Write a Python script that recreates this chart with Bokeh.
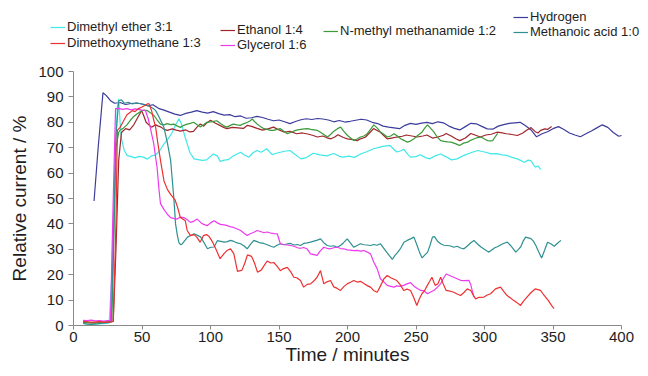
from bokeh.plotting import figure
from bokeh.models import Range1d, Legend, LegendItem, ColumnDataSource
from bokeh.embed import file_html
from bokeh.resources import INLINE

# ---------------- data ----------------
hydrogen_t = [15, 18, 21.5, 24, 27, 30, 34, 38, 42, 46, 50, 54, 58, 62, 66, 70, 74, 78, 82, 86, 90, 94, 98, 102, 106, 110, 114, 118, 122, 126, 130, 134, 138, 142, 146, 150, 154, 158, 162, 166, 170, 174, 178, 182, 186, 190, 194, 198, 202, 206, 210, 214, 218, 222, 226, 230, 234, 238, 242, 246, 250, 254, 258, 262, 266, 270, 274, 278, 282, 286, 290, 294, 298, 302, 306, 310, 314, 318, 322, 326, 330, 334, 338, 342, 346, 350, 354, 358, 362, 366, 370, 374, 378, 382, 386, 390, 394, 398, 400]
hydrogen_v = [49, 70, 91.6, 90.5, 88.5, 87.5, 87.8, 87, 87.4, 87.6, 87.2, 86.5, 86.9, 85.5, 84.8, 84, 83.2, 82.7, 83.5, 84, 84.6, 84, 83.6, 84.2, 83.4, 82.8, 83, 82.2, 82.5, 81.6, 81.8, 82.3, 81.9, 81.2, 80.6, 80.9, 80.2, 79.5, 80.3, 81, 81.4, 81.1, 81.5, 81.3, 80.9, 80.2, 80.7, 80.1, 80.4, 80.8, 81.2, 80.9, 80, 79.5, 78.5, 78.1, 77.8, 77.5, 78.8, 79.6, 79.2, 79.7, 80, 79.5, 80.2, 79.8, 78.5, 77.6, 77, 78.3, 79.6, 79.4, 78.4, 77.4, 77.3, 78.5, 79.1, 79.6, 79.8, 80, 78.6, 77, 74.3, 75.5, 76.3, 77.5, 78.3, 77.2, 75.8, 75, 74.3, 75.5, 76.6, 77.8, 79, 78, 76, 74.5, 74.8]

dme_t = [7, 10, 14, 18, 22, 26, 28, 30, 32, 33, 34, 35, 37, 39, 42, 45, 48, 51, 54, 57, 60, 63, 66, 69, 72, 75, 77, 79, 81, 83, 85, 88, 91, 94, 97, 100, 102, 105, 107, 110, 113, 116, 119, 122, 125, 128, 131, 134, 137, 141, 145, 148, 151, 154, 158, 162, 166, 170, 175, 180, 185, 190, 194, 197, 201, 205, 210, 214, 219, 223, 226, 231, 234, 236, 239, 241, 244, 246, 250, 253, 257, 260, 264, 268, 272, 276, 280, 285, 290, 295, 300, 305, 309, 313, 316, 320, 324, 329, 332, 334, 337, 339, 341]
dme_v = [0.8, 0.6, 0.5, 0.6, 0.7, 1, 20, 60, 86, 89.2, 80, 73.6, 69, 67, 66.5, 66, 66.6, 66.3, 65.5, 66.8, 67.2, 69, 71.4, 73.5, 76, 79.5, 81.4, 79, 75, 71.5, 68, 65.6, 65.3, 65, 65.2, 66.5, 67.5, 66.8, 64.6, 65.1, 65.3, 66.5, 67.4, 68.2, 67, 66.3, 68, 68.9, 68.2, 69.6, 67.3, 67.8, 68.2, 68.6, 68.9, 67.2, 65.6, 66.1, 67.8, 67.2, 66.8, 67.7, 66.6, 66.3, 66.7, 66.2, 67.6, 68.4, 69.6, 70.1, 70.5, 70.9, 69.2, 68.3, 68.8, 69.4, 67.4, 66.3, 66.5, 67.2, 66.1, 65.6, 66.8, 67.5, 66.4, 65.2, 65.6, 67, 68, 68.9, 68.3, 67.6, 67.7, 67.2, 67, 66.2, 65.6, 64.3, 65.1, 64.8, 62.3, 62.8, 61.5]

ethanol_t = [7, 12, 17, 22, 27, 29, 31, 33, 35, 38, 41, 44, 47, 49.7, 51, 53, 55, 57, 60, 62, 64, 66, 68.6, 72, 75, 78, 82, 85, 87.6, 90, 92.4, 95, 97, 100, 103, 107.5, 110, 112, 116, 120, 124, 127, 130, 134, 138, 142, 146, 150, 154, 158, 163, 167, 171, 175, 178, 182, 185, 188, 191, 193, 197, 200, 204, 207, 210, 213, 216, 219, 221, 224, 227, 229, 233, 236, 240, 243, 247, 251, 255, 258, 262, 266, 270, 272, 276, 279, 282, 286, 290, 294, 297, 301, 305, 309, 312, 316, 320, 324, 328, 331, 334, 337, 339, 341, 344, 346, 349]
ethanol_v = [1.2, 1, 1.1, 1.3, 1.5, 1.6, 30, 65, 76, 77.5, 77, 79, 82, 84.6, 83, 80, 79, 78.1, 79, 78.5, 78.1, 77.2, 76.8, 77.4, 76.9, 76.5, 77, 76.2, 76.4, 78, 79.3, 78.5, 79.6, 80.8, 79.8, 78.6, 77.9, 77.5, 78, 77.8, 77.6, 78.8, 78.4, 77.6, 76.9, 77.4, 78.1, 77, 76.1, 76.4, 75.5, 75.8, 75.4, 74.8, 74.2, 74.6, 73.9, 73.5, 74.3, 75.1, 74, 73.5, 73.2, 72.8, 73.6, 74.1, 75.8, 77.5, 77, 76.1, 74.5, 73.5, 73.9, 74.2, 74.5, 75, 74.6, 74.2, 74.6, 75, 73.8, 74.2, 74.9, 75.6, 74.5, 73.5, 72.8, 73.8, 75.6, 74.8, 74.2, 75, 75.3, 76.1, 75.9, 75.5, 75.2, 74.8, 75.8, 77, 77.9, 76.3, 75.8, 76.8, 77.4, 77.2, 78.3]

dmm_t = [7, 11, 15, 19, 23, 27, 29, 31, 32, 34, 36, 37, 39, 41, 43, 45, 47, 50, 52, 53.8, 55, 57, 58.5, 60, 61.5, 63.5, 66, 68.6, 71, 74, 76, 78, 80, 81.6, 83, 85.4, 88, 90, 92.4, 94.9, 97, 99, 101.6, 104, 107, 110, 112, 114.6, 117, 119.7, 123, 125, 127, 130, 131.9, 134.3, 137, 139, 141.4, 144, 146.2, 148.5, 151, 153, 156, 158.5, 160.8, 163, 165.7, 168, 170.5, 173, 175.4, 177.8, 180.3, 182.7, 185, 187.6, 190, 192.5, 194.9, 197.3, 199.8, 202.2, 204.6, 207, 209.5, 212, 214.4, 217, 219, 221.7, 224, 226.6, 229, 231.5, 234, 236, 238.6, 241, 243.5, 246, 248.2, 250.6, 252.5, 254.3, 256, 258, 260, 261.6, 264, 266, 268, 270, 272, 275, 277.6, 280, 282.5, 285, 287.4, 290, 291.5, 293.5, 296, 299.6, 302, 304.5, 308, 311.7, 314, 316.5, 319, 321.4, 324, 326.3, 328.5, 331, 334, 337, 339, 340.9, 342.8, 344.6, 346.5, 348.2, 350.7]
dmm_v = [1.6, 1.4, 1.3, 1.5, 1.2, 1.4, 1.6, 40, 76.8, 78, 80, 81, 83, 83.8, 84.6, 84.2, 85.3, 86, 86.6, 87.2, 87.4, 84.6, 81, 78, 72, 65, 57, 53.5, 51.5, 49.6, 46.5, 42.5, 41.8, 41.2, 37.4, 35.4, 35.8, 34.8, 32.8, 35.4, 35.8, 35, 32.8, 30, 26.3, 28.4, 29.5, 30.2, 28.3, 21.3, 21.8, 24.5, 27.8, 27.2, 24.9, 21, 21.8, 23.5, 25.4, 24.6, 24.8, 23.4, 21.6, 22.3, 22.9, 21.2, 19, 18.8, 17.7, 15.1, 16.2, 16.4, 17.5, 19, 21.6, 16.4, 17.2, 17.7, 15.2, 14.6, 13.8, 15.3, 16.4, 17, 17.7, 17.1, 17.4, 16.5, 15.7, 15, 13.8, 13.1, 15.5, 18.4, 19.7, 18.8, 18.2, 17.7, 16, 13.8, 14.3, 13.8, 11.2, 7.9, 10.5, 12.5, 13.5, 15.5, 17.4, 19, 15.8, 16.4, 19, 16.2, 13.8, 13.5, 13.1, 12.4, 11.8, 13, 14.4, 13.8, 12.2, 10.5, 11.1, 11.2, 12, 12.5, 14.4, 15.1, 13.4, 11.8, 10.8, 9.8, 8.9, 7.9, 9.6, 11.2, 13, 14.4, 14.1, 13.8, 12.4, 11.2, 9.9, 8.5, 6.6]

glycerol_t = [7, 10, 13, 16, 19, 22, 25, 27, 29, 30.7, 33, 36, 39, 42, 45, 48, 50, 52.5, 54.5, 56, 58.6, 60, 61, 62.5, 63.5, 66, 68.5, 70.9, 73, 75.7, 78, 80.6, 83, 85.4, 88, 90.3, 93, 95, 97.6, 100, 102.5, 105, 107.3, 110, 112.2, 115, 117, 119.5, 122, 124.5, 126.8, 129, 131.7, 134, 136.5, 139, 141.4, 144, 146.5, 148.7, 151, 154, 156, 158.4, 161, 163.5, 165.7, 168, 170.6, 173, 175.5, 177.8, 180, 182.7, 185, 187.6, 190, 192.4, 195, 197.3, 200, 202, 204.6, 207, 209.5, 211.9, 214, 216.8, 219.2, 221.7, 224, 226.5, 229, 231.5, 233.9, 236, 238.5, 241, 243.5, 246, 248.5, 251, 253.5, 256, 258.4, 261, 263, 265.5, 268, 270, 272, 275, 277.5, 280, 282.5, 285, 288.6, 290, 291, 292.3]
glycerol_v = [2, 1.9, 2.1, 1.8, 1.9, 1.7, 1.9, 2, 50, 85.4, 85.5, 85.1, 85.4, 84.9, 85.3, 85, 84.8, 84.6, 81.5, 78, 71.5, 66, 62.3, 53, 48, 45.7, 43.8, 42.5, 42.2, 41.9, 42.7, 42.5, 41.6, 40.6, 41.1, 41.9, 40.5, 39.8, 39.3, 40.4, 41.2, 40.4, 39.8, 39.6, 39.3, 38.8, 38.6, 38, 37.4, 36.3, 35.4, 36.1, 36.7, 37.4, 37, 36.5, 36.8, 36.4, 36.2, 36.1, 32.2, 31.8, 31.7, 31.5, 31.2, 30.6, 30.4, 30.7, 30.1, 28.2, 27.9, 27.6, 29.3, 30.8, 30.4, 30.2, 30.6, 30.8, 30.3, 30.2, 29.8, 29.7, 29.5, 29.6, 29.3, 29.5, 29, 28.2, 24.9, 22.3, 18.4, 17.2, 15.8, 15.4, 15.1, 15.6, 15.4, 15.8, 16.4, 16.9, 15.5, 14.6, 13.8, 13.6, 12.5, 13.3, 13.8, 15, 16.4, 18.5, 20.3, 19.6, 19, 18.4, 17.8, 17.7, 17.8, 16, 13.8, 11.2]

nmm_t = [7, 11, 15, 19, 23, 26, 28, 29.5, 31, 33, 34, 36, 39, 41.5, 44, 46.5, 49, 51.5, 53.8, 56, 58.6, 61, 63.5, 66, 68.4, 71, 73.2, 75.5, 78, 80.5, 83, 85.3, 87.6, 90, 92.4, 95, 97.3, 100, 102.3, 104.6, 107, 109.5, 112, 114.4, 116.8, 119.3, 121.7, 124, 127, 129, 130.5, 132.5, 134.7, 136.8, 139, 141.4, 143.8, 146, 148.7, 151, 153.5, 156, 158.5, 161, 163.5, 166, 168.5, 170.8, 173.2, 175.6, 178, 180.5, 183, 185.4, 187.8, 190.3, 192.7, 195, 197.5, 200, 202.3, 204.6, 207, 209.5, 212, 214.4, 216.8, 219.2, 221.6, 224, 226.5, 229, 231.5, 234, 236.4, 238.8, 241.2, 243.6, 246, 248.5, 251, 254.5, 256.5, 258.4, 260.7, 263, 265.5, 268, 270.5, 273, 275.6, 278.7, 281.7, 284.7, 287.7, 290.2, 292.6, 295, 297.5, 300, 302.3, 304, 306, 307.8, 309.6]
nmm_v = [1, 1.2, 0.9, 1.1, 1.3, 1.5, 2, 35, 70, 76, 77, 77.5, 79, 80.8, 82.3, 83.4, 84.3, 84.8, 84.6, 83.8, 82.7, 81, 79.3, 79, 79.5, 79.1, 79.3, 78.6, 78, 78.8, 79.3, 79.6, 80, 79.1, 78.2, 79, 80, 80.2, 80.4, 80.6, 79.6, 78.7, 78.1, 78.8, 79.3, 79, 78.8, 79.4, 80, 80.6, 81.3, 80.1, 79, 78.2, 77.5, 77.2, 76.8, 76.8, 77.2, 77.5, 76.5, 75.5, 76, 76.6, 77, 77.2, 77.4, 77.5, 77.2, 77, 76.8, 76, 75.1, 74.2, 75.3, 76.6, 77.5, 78.1, 76.3, 74.8, 73.8, 72.8, 73.4, 74.2, 74.6, 75.5, 77.2, 79, 77.8, 76.2, 75.3, 74.2, 74.6, 75.5, 74.6, 73.5, 72.9, 72.2, 72.6, 73.5, 74.7, 76.2, 77.8, 79, 77.6, 76.2, 74.2, 72.8, 72.5, 72.3, 72.2, 71.6, 70.9, 71.8, 72.2, 73, 73.5, 74, 74.2, 73.4, 72.8, 72.7, 72.8, 74.3, 75.6]

ma_t = [7, 10, 13, 17, 21, 25, 27.5, 29, 31, 33, 35, 37, 40, 43, 46, 49, 52, 55, 58, 60, 63, 66, 68.5, 70.9, 72, 73.3, 74.5, 75.8, 77, 78.3, 79.5, 81.5, 83.2, 85.5, 88, 90.5, 92.9, 95.3, 97.8, 100.2, 102.6, 105, 107.5, 110, 112.3, 114.6, 117, 119.5, 122, 124.5, 126.8, 129, 131.6, 134, 136.4, 139, 141.4, 144, 146.2, 148.6, 151, 153.5, 156, 158.4, 161, 163.3, 165.7, 168, 170.6, 173, 175.5, 178, 180.3, 182.7, 185.2, 187.6, 190, 192.4, 195, 197.3, 199.8, 202.2, 204.6, 207, 209.5, 212, 214.4, 216.8, 219.2, 221.6, 224, 226.5, 229, 231, 232.7, 234.5, 236.3, 238.8, 241.2, 243.6, 246, 248.5, 251, 252.8, 254.5, 256.5, 258.4, 260.2, 262, 263.5, 265.7, 268, 270.4, 272.8, 275.2, 277.6, 280, 282.5, 285, 287.5, 290, 292.3, 294.7, 297.2, 299.6, 301.5, 303.3, 305.5, 307.5, 309.4, 312, 314.3, 316.7, 319, 321, 322.8, 324.8, 326.5, 328.2, 330, 332, 333.9, 335.7, 337.5, 339.5, 341.7, 343.8, 346, 348.4, 350.9, 353.3, 355.8]
ma_v = [0.8, 0.5, 0.4, 0.6, 0.9, 1.1, 1.3, 30, 75, 88.5, 88.8, 87.5, 87.9, 87.2, 87.6, 87.3, 87, 86.4, 85.5, 84.6, 81.5, 78, 72, 65, 58, 49.6, 40, 35.5, 32.5, 31.8, 32.2, 33.6, 34.8, 35.4, 36.1, 35.5, 34.8, 32.6, 30.2, 30.8, 30.9, 33.4, 33.1, 32.8, 33, 33.5, 33.1, 32.5, 32.2, 31.3, 30.2, 31.8, 33.5, 33, 32.5, 32.3, 31.8, 31.2, 30.8, 31.6, 32.2, 31.8, 32.1, 32.3, 31.7, 31.9, 31.5, 32.3, 32.5, 32.8, 33.2, 33.6, 34.1, 32.6, 31.5, 31.2, 31.4, 30.8, 31.6, 32.7, 34.1, 32.4, 30.8, 31.5, 32.2, 31.8, 31.7, 31.5, 31.9, 31.6, 32.2, 30.4, 28.6, 27.2, 26, 27.5, 28.6, 30.4, 32.8, 33.5, 34.1, 34.8, 31.2, 28.5, 26.6, 27.8, 28.8, 31.5, 34.8, 35, 33.2, 32.2, 31.6, 31.5, 31.3, 30.8, 31.2, 30.5, 30.2, 31.3, 32.6, 33.5, 32.2, 31, 30.1, 29.4, 28.9, 29.8, 30.6, 31, 31.8, 32.4, 32.8, 31.5, 30.2, 28.9, 30, 31, 33.2, 34.8, 34.5, 34.2, 33.2, 31.5, 29, 26.6, 29.5, 32.8, 32.2, 31.2, 32.4, 33.5]

series_names = ["Dimethyl ether 3:1", "Dimethoxymethane 1:3", "Ethanol 1:4", "Glycerol 1:6",
                "N-methyl methanamide 1:2", "Hydrogen", "Methanoic acid 1:0"]
series_colors = ["#40E8E8", "#EE3030", "#A0262C", "#EE3AEE", "#3C9A3C", "#3C3C9C", "#2E9090"]
series_t = [dme_t, dmm_t, ethanol_t, glycerol_t, nmm_t, hydrogen_t, ma_t]
series_v = [dme_v, dmm_v, ethanol_v, glycerol_v, nmm_v, hydrogen_v, ma_v]

x_ticks = [0, 50, 100, 150, 200, 250, 300, 350, 400]
y_ticks = [0, 10, 20, 30, 40, 50, 60, 70, 80, 90, 100]
x_lim = (0, 400)
y_lim = (0, 100)

# ---------------- layout geometry (pixels) ----------------
W, H = 640, 368
AX_LEFT, AX_RIGHT = 73, 621      # pixel x of t=0 and t=400
AX_BOTTOM, AX_TOP = 325, 71      # pixel y of v=0 and v=100
kx = (AX_RIGHT - AX_LEFT) / (x_lim[1] - x_lim[0])
ky = (AX_BOTTOM - AX_TOP) / (y_lim[1] - y_lim[0])
x_range = Range1d(x_lim[0] - AX_LEFT / kx, x_lim[0] + (W - AX_LEFT) / kx)
y_range = Range1d(y_lim[0] - (H - AX_BOTTOM) / ky, y_lim[0] + AX_BOTTOM / ky)

FONT = "Liberation Sans"
p = figure(width=W, height=H, output_backend="svg", toolbar_location=None,
           x_range=x_range, y_range=y_range,
           min_border_left=0, min_border_right=0, min_border_top=0, min_border_bottom=0)
p.outline_line_color = None
p.grid.visible = False

renderers = {}
order = [5, 0, 2, 4, 6, 3, 1]
for i in order:
    src = ColumnDataSource(dict(t=series_t[i], v=series_v[i]))
    renderers[i] = p.line("t", "v", source=src, line_color=series_colors[i], line_width=1.2)

for ax in (p.xaxis[0], p.yaxis[0]):
    ax.axis_line_color = "#8a8a8a"
    ax.major_tick_line_color = "#8a8a8a"
    ax.minor_tick_line_color = None
    ax.major_tick_in = 0
    ax.major_tick_out = 5
    ax.major_label_text_font = FONT
    ax.major_label_text_font_size = "15px"
    ax.major_label_text_color = "#1e1e1e"
    ax.axis_label_text_font = FONT
    ax.axis_label_text_font_size = "19px"
    ax.axis_label_text_font_style = "normal"
    ax.axis_label_text_color = "#1e1e1e"

p.xaxis.ticker = x_ticks
p.yaxis.ticker = y_ticks
p.xaxis.bounds = x_lim
p.yaxis.bounds = y_lim
p.xaxis.fixed_location = y_lim[0]
p.yaxis.fixed_location = x_lim[0]
p.xaxis.axis_label = "Time / minutes"
p.yaxis.axis_label = "Relative current / %"
p.xaxis.major_tick_out = 4
p.xaxis.major_label_standoff = 2
p.xaxis.axis_label_standoff = -1
p.yaxis.major_label_standoff = 5
p.yaxis.axis_label_standoff = 5

# legend entries: (series index, swatch left x, centre y) in page pixels
legend_pos = [(0, 50, 27), (1, 50, 43), (2, 220, 30), (3, 220, 45),
              (4, 323, 31), (5, 513, 17), (6, 513, 32)]
for i, lx, cy in legend_pos:
    leg = Legend(items=[LegendItem(label=series_names[i], renderers=[renderers[i]])],
                 location=(lx, H - cy - 7), padding=0, margin=0, spacing=0,
                 glyph_width=15, glyph_height=14, label_height=14, label_standoff=2,
                 border_line_color=None, background_fill_alpha=0,
                 label_text_font=FONT, label_text_font_size="13px",
                 label_text_color="#1e1e1e")
    p.add_layout(leg)

open("out.html", "w").write(file_html(p, INLINE))
